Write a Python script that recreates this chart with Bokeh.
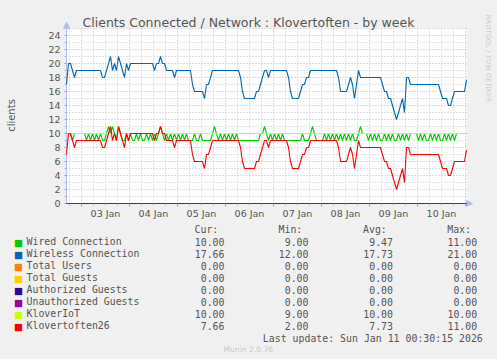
import math
import numpy as np
from bokeh.plotting import figure
from bokeh.models import (Range1d, FixedTicker, Label, Arrow, NormalHead, LinearAxis,
                          GlobalInlineStyleSheet)
from bokeh.embed import file_html
from bokeh.resources import INLINE

# ---------------- data ----------------
title = "Clients Connected / Network : Klovertoften - by week"
y_label = "clients"
day_labels = ["03 Jan", "04 Jan", "05 Jan", "06 Jan", "07 Jan", "08 Jan", "09 Jan", "10 Jan"]
y_ticks = [0, 2, 4, 6, 8, 10, 12, 14, 16, 18, 20, 22, 24]
y_top = 25
last_update = "Last update: Sun Jan 11 00:30:15 2026"
watermark = "RRDTOOL / TOBI OETIKER"
version = "Munin 2.0.76"

# hourly samples, hours relative to 03 Jan 00:00 (02 Jan 16:30 .. 11 Jan 00:30)
hours = np.arange(201) - 7.5

wired = ([10, 10, 10, 9, 10, 10, 10, 10, 10, 10]
         + [9, 10, 9, 10, 9, 10, 9, 10]
         + [9, 9, 10, 11]
         + [10, 11, 10, 9, 11, 10, 9, 9]
         + [10]
         + [9, 10, 9, 9, 10, 9, 10, 9, 9, 10, 9, 10, 9, 10, 9]
         + [10, 11, 10]
         + [9, 10, 9, 10, 9, 10, 9, 10, 9, 10, 9, 10, 9]
         + [9, 9, 10, 9, 9, 10, 9, 9, 9, 9, 9, 10]
         + [11, 10]
         + [9, 10, 9, 10, 9, 10, 9, 10, 9, 10, 9, 9]
         + [9, 9, 9, 9, 9, 9, 9, 9, 9, 10]
         + [10, 11, 10, 9]
         + [10, 9, 10, 9, 10, 9, 10, 9, 9]
         + [9, 9, 9, 9, 9, 9, 9, 10, 9, 9, 9]
         + [10, 11, 10]
         + [9, 9, 9, 9]
         + [10, 9, 10, 9, 10, 9, 10, 9, 10, 9, 10, 9, 10, 9, 10, 9, 9]
         + [10, 11, 10]
         + [10, 10, 9]
         + [10, 9, 10, 9, 10, 9, 9, 10, 9, 10, 9, 10, 9, 9, 10, 9, 10, 9, 10, 9]
         + [10, 10, 10, 10]
         + [9, 10, 9, 10, 9, 9, 10, 9, 10, 9, 10, 9, 9, 10, 9, 10, 9, 10, 9]
         + [10] * 6)

wireless = ([17, 20, 20, 19, 18, 19] + [19] * 12
            + [18, 18, 19, 20, 21, 19, 20, 19, 21, 20, 19, 18, 20, 19]
            + [20] * 12
            + [19, 20, 20, 21, 20, 20]
            + [19] * 4 + [18] + [19] * 8
            + [17] + [16] * 5 + [15, 17, 17, 18]
            + [19] * 14
            + [18, 16] + [15] * 6 + [16, 16, 17, 18, 19, 19, 18]
            + [19] * 9
            + [18, 16] + [15] * 4 + [16, 17, 17, 18, 18]
            + [19] * 14
            + [18] + [16] * 4 + [17, 18, 17, 15, 17, 19]
            + [18] * 11
            + [17, 16, 16, 15, 15, 14, 13, 12, 13, 14, 15, 13, 18, 18]
            + [17] * 15
            + [16, 15, 15, 15, 14, 14, 15]
            + [16] * 6 + [17.66])

total_users = [0] * 201
total_guests = [0] * 201
authorized_guests = [0] * 201
unauthorized_guests = [0] * 201
kloveriot = [10] * 201

klovertoften26 = ([7, 10, 10, 9, 8, 9] + [9] * 12
                  + [8, 8, 9, 10, 11, 9, 10, 9, 11, 10, 9, 8, 10, 9]
                  + [10] * 12
                  + [9, 10, 10, 11, 10, 10]
                  + [9] * 4 + [8] + [9] * 8
                  + [7] + [6] * 5 + [5, 7, 7, 8]
                  + [9] * 14
                  + [8, 6] + [5] * 6 + [6, 6, 7, 8, 9, 9, 8]
                  + [9] * 9
                  + [8, 6] + [5] * 4 + [6, 7, 7, 8, 8]
                  + [9] * 14
                  + [8] + [6] * 4 + [7, 8, 7, 5, 7, 9]
                  + [8] * 11
                  + [7, 6, 6, 5, 5, 4, 3, 2, 3, 4, 5, 3, 8, 8]
                  + [7] * 15
                  + [6, 5, 5, 5, 4, 4, 5]
                  + [6] * 6 + [7.66])

names = ["Wired Connection", "Wireless Connection", "Total Users", "Total Guests",
         "Authorized Guests", "Unauthorized Guests", "KloverIoT", "Klovertoften26"]
colors = ["#00CC00", "#0066B3", "#FF8000", "#FFCC00", "#330099", "#990099", "#CCFF00", "#FF0000"]
cur_vals = [10.00, 17.66, 0.00, 0.00, 0.00, 0.00, 10.00, 7.66]
min_vals = [9.00, 12.00, 0.00, 0.00, 0.00, 0.00, 9.00, 2.00]
avg_vals = [9.47, 17.73, 0.00, 0.00, 0.00, 0.00, 10.00, 7.73]
max_vals = [11.00, 21.00, 0.00, 0.00, 0.00, 0.00, 10.00, 11.00]
col_heads = ["Cur:", "Min:", "Avg:", "Max:"]

series = [wired, wireless, total_users, total_guests, authorized_guests,
          unauthorized_guests, kloveriot, klovertoften26]

# ---------------- layout (pixels) ----------------
W, H = 497, 359
PX_L, PX_B = 66, 203          # pixel position of the data origin (x start, y = 0)
PX_PER_H, PX_PER_UNIT = 2.0, 7.0
x0 = float(hours[0])
x_end = float(hours[-1])
x_range = Range1d(x0 - PX_L / PX_PER_H, x0 + (W - PX_L) / PX_PER_H)
y_range = Range1d(-(H - PX_B) / PX_PER_UNIT, PX_B / PX_PER_UNIT)

p = figure(width=W, height=H, output_backend="svg", toolbar_location=None,
           x_range=x_range, y_range=y_range, title=None)
p.min_border = 0
p.min_border_left = p.min_border_right = p.min_border_top = p.min_border_bottom = 0
p.stylesheets = [GlobalInlineStyleSheet(css="html, body { background: #F0F0F0; overflow: hidden; margin: 0; }")]
p.border_fill_color = "#F0F0F0"
p.background_fill_color = "#F0F0F0"
p.outline_line_color = None
p.xgrid.visible = False
p.ygrid.visible = False

midnights = [24 * i for i in range(9)]
six_h = [h for h in range(-6, 193, 6) if h % 24 != 0]
noons = [12 + 24 * i for i in range(len(day_labels))]
odd = [v for v in range(1, y_top + 1, 2)]

# white graph area
p.quad(left=x0, right=x_end, bottom=0, top=y_top, fill_color="#FFFFFF", line_color=None, level="image")

# grid lines (dotted)
maj_col, min_col = "#F4A0A0", "#C8C8C8"
p.segment(x0=midnights, x1=midnights, y0=[0] * len(midnights), y1=[y_top] * len(midnights),
          line_color=maj_col, line_dash="1 2", line_width=1, level="underlay")
p.segment(x0=six_h, x1=six_h, y0=[0] * len(six_h), y1=[y_top] * len(six_h),
          line_color=min_col, line_dash="1 2", line_width=1, level="underlay")
ymaj = y_ticks[1:]
p.segment(x0=[x0] * len(ymaj), x1=[x_end] * len(ymaj), y0=ymaj, y1=ymaj,
          line_color=maj_col, line_dash="1 2", line_width=1, level="underlay")
p.segment(x0=[x0] * len(odd), x1=[x_end] * len(odd), y0=odd, y1=odd,
          line_color=min_col, line_dash="1 2", line_width=1, level="underlay")

# axes (fixed inside the canvas)
ax = p.xaxis[0]
ax.fixed_location = 0
ax.ticker = FixedTicker(ticks=noons, minor_ticks=[])
ax.major_label_overrides = {h: t for h, t in zip(noons, day_labels)}
ax.axis_line_color = None
ax.major_tick_line_color = None
ax.minor_tick_line_color = None
ax.major_tick_in = 0
ax.major_tick_out = 0
ax.major_label_standoff = 4
ax.major_label_text_font = "DejaVu Sans"
ax.major_label_text_font_size = "9.5px"
ax.major_label_text_color = "#555555"

ax2 = LinearAxis(fixed_location=0, ticker=FixedTicker(ticks=midnights, minor_ticks=six_h))
ax2.axis_line_color = None
ax2.major_tick_line_color = "#F08080"
ax2.major_tick_in = 0
ax2.major_tick_out = 3
ax2.minor_tick_line_color = "#B8B8B8"
ax2.minor_tick_in = 0
ax2.minor_tick_out = 2
ax2.major_label_text_color = None
ax2.major_label_text_font_size = "1px"
p.add_layout(ax2, "below")

ay = p.yaxis[0]
ay.fixed_location = x0
ay.bounds = (0, y_top)
ay.ticker = FixedTicker(ticks=y_ticks, minor_ticks=odd)
ay.axis_line_color = None
ay.major_tick_line_color = "#F08080"
ay.major_tick_in = 0
ay.major_tick_out = 2
ay.minor_tick_line_color = "#B8B8B8"
ay.minor_tick_in = 0
ay.minor_tick_out = 2
ay.major_label_standoff = 4
ay.major_label_text_font = "DejaVu Sans"
ay.major_label_text_font_size = "9.5px"
ay.major_label_text_color = "#555555"

# axis arrows
acol = "#B4BEF0"
p.add_layout(Arrow(end=NormalHead(size=6, fill_color=acol, line_color=acol, line_width=1),
                   x_start=x0, y_start=0, x_end=x0, y_end=y_top + 0.9,
                   line_color=acol, line_width=1, level="underlay"))
p.add_layout(Arrow(end=NormalHead(size=6, fill_color=acol, line_color=acol, line_width=1),
                   x_start=x0, y_start=0, x_end=x_end + 3, y_end=0,
                   line_color=acol, line_width=1, level="underlay"))

# data lines
for s, c in zip(series, colors):
    p.line(hours, s, line_color=c, line_width=1.1)

DY = -2.5  # baseline correction for labels


def put(text, px, py, size, color="#555555", align="left", baseline="alphabetic",
        font="DejaVu Sans", angle=0.0, shift=True):
    yy = py + (DY if shift else 0)
    lab = Label(x=px, y=H - yy, x_units="screen", y_units="screen", text=text)
    lab.text_font = font
    lab.text_font_size = f"{size}px"
    lab.text_color = color
    lab.text_align = align
    lab.text_baseline = baseline
    lab.angle = angle
    p.add_layout(lab)


# title, axis label, watermark
put(title, 248, 24, 12.5, align="center")
put(y_label, 11, 115, 10, align="center", baseline="middle", angle=math.pi / 2, shift=False)
put(watermark, 487, 58, 6.8, color="#C8C8C8", align="center", baseline="middle",
    angle=-math.pi / 2, shift=False)

# legend table
mono = "DejaVu Sans Mono"
col_right = [224, 308, 392.5, 476.7]
for head, r in zip(col_heads, col_right):
    put(head, r - 30, 231, 9.9, font=mono)
for i, (n, c) in enumerate(zip(names, colors)):
    yb = 243.5 + 12 * i
    put("\u25A0", 13.5, yb + 0.5, 9.5, color=c, font="DejaVu Sans")
    put(n, 26, yb, 9.9, font=mono)
    for vals, r in zip([cur_vals, min_vals, avg_vals, max_vals], col_right):
        put(f"{vals[i]:.2f}", r, yb, 9.9, font=mono, align="right")
put(last_update, 482.3, 340, 9.9, font=mono, align="right")
put(version, 223, 351, 7.6, color="#C8C8C8")

open("out.html", "w").write(file_html(p, INLINE))
